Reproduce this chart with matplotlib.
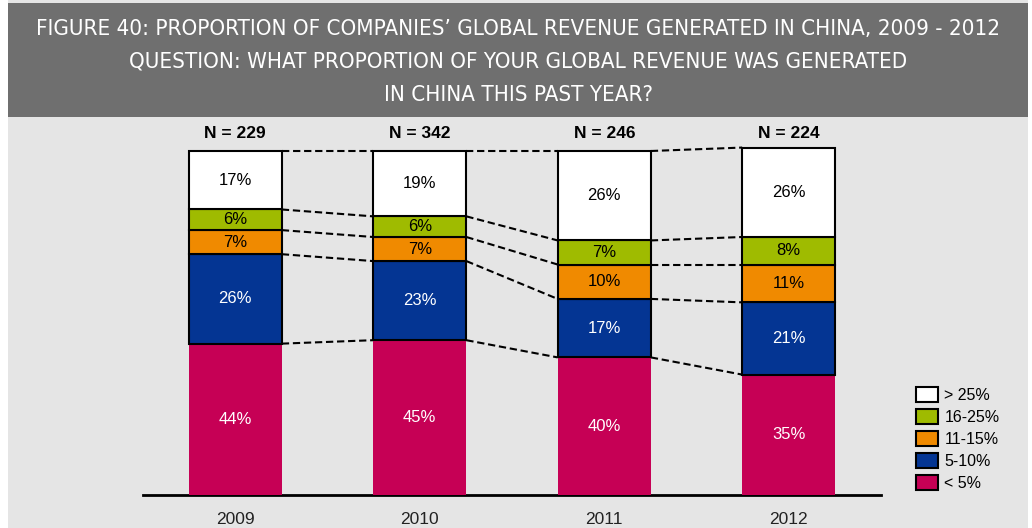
import matplotlib.pyplot as plt
from matplotlib import font_manager
from matplotlib.patches import Patch, Rectangle

# survey data: share of respondents per revenue band, stacked bottom -> top
years = ['2009', '2010', '2011', '2012']
sample_sizes = [229, 342, 246, 224]
bands = ['< 5%', '5-10%', '11-15%', '16-25%', '> 25%']
under_5 = [44, 45, 40, 35]
from_5_to_10 = [26, 23, 17, 21]
from_11_to_15 = [7, 7, 10, 11]
from_16_to_25 = [6, 6, 7, 8]
over_25 = [17, 19, 26, 26]

series = [under_5, from_5_to_10, from_11_to_15, from_16_to_25, over_25]
colors = ['#c60055', '#043593', '#f08a00', '#9fbb00', '#ffffff']
text_colors = ['white', 'white', 'black', 'black', 'black']

plt.rcParams['font.family'] = ['Liberation Sans', 'DejaVu Sans']

fig = plt.figure(figsize=(10.32, 5.28), dpi=100)
fig.patch.set_facecolor('white')

# light page background and dark title band
fig.patches.append(Rectangle((8 / 1032, 0), 1020 / 1032, 1, transform=fig.transFigure,
                             facecolor='#e5e5e5', edgecolor='none', zorder=-2))
fig.patches.append(Rectangle((8 / 1032, 1 - 117 / 528), 1020 / 1032, 114 / 528,
                             transform=fig.transFigure, facecolor='#6f6f6f',
                             edgecolor='none', zorder=-1))

# condensed face for the title if one is installed
title_font = font_manager.FontProperties(family='DejaVu Sans', stretch='condensed')
found = font_manager.findfont(title_font, fallback_to_default=False)
if 'Condensed' not in found:
    title_font = font_manager.FontProperties(family='Liberation Sans')

title_lines = ['FIGURE 40: PROPORTION OF COMPANIES\u2019 GLOBAL REVENUE GENERATED IN CHINA, 2009 - 2012',
               'QUESTION: WHAT PROPORTION OF YOUR GLOBAL REVENUE WAS GENERATED',
               'IN CHINA THIS PAST YEAR?']
title_texts = []
for i, line in enumerate(title_lines):
    t = fig.text(518 / 1032, 1 - (29 + 33 * i) / 528, line, ha='center', va='center',
                 color='white', fontproperties=title_font.copy())
    t.set_fontsize(16.5)
    title_texts.append(t)

# shrink the title so the long first line fits the band
renderer = fig.canvas.get_renderer()
w = title_texts[0].get_window_extent(renderer).width
scale = min(1.0, 960 / w)
for t in title_texts:
    t.set_fontsize(16.5 * scale)

ax = fig.add_axes([143 / 1032, 33 / 528, 738 / 1032, 344 * 1.1 / 528])
ax.set_facecolor('none')
ax.set_xlim(-0.5, 3.5)
ax.set_ylim(0, 110)

x = list(range(len(years)))
width = 0.505
bottoms = [0] * len(years)
tops_per_level = []
for vals, col, tcol in zip(series, colors, text_colors):
    edge = 'none' if col == '#c60055' else 'black'
    ax.bar(x, vals, width, bottom=bottoms, color=col, edgecolor=edge,
           linewidth=1.5, zorder=3)
    for xi, v, b in zip(x, vals, bottoms):
        ax.text(xi, b + v / 2, f'{v}%', ha='center', va='center', color=tcol,
                fontsize=12, zorder=4)
    bottoms = [b + v for b, v in zip(bottoms, vals)]
    tops_per_level.append(list(bottoms))

# dashed connectors between the segment boundaries of neighbouring bars
for tops in tops_per_level:
    for i in range(len(years) - 1):
        ax.plot([x[i] + width / 2, x[i + 1] - width / 2], [tops[i], tops[i + 1]],
                color='black', linestyle=(0, (3.5, 1.8)), linewidth=1.5, zorder=2)

for xi, n in zip(x, sample_sizes):
    ax.text(xi, 105, f'N = {n}', ha='center', va='center', fontsize=12.5,
            fontweight='bold', color='black')

for s in ['top', 'right', 'left']:
    ax.spines[s].set_visible(False)
ax.spines['bottom'].set_linewidth(2)
ax.set_yticks([])
ax.set_xticks(x)
ax.set_xticklabels(years, fontsize=12.5, color='#222222')
ax.tick_params(axis='x', length=0, pad=12)

handles = [Patch(facecolor=c, edgecolor='black', linewidth=1.5)
           for c in colors[::-1]]
fig.legend(handles, bands[::-1], loc='upper left',
           bbox_to_anchor=(910 / 1032, 1 - 381 / 528), frameon=False,
           fontsize=11.5, handlelength=1.35, handleheight=1.0, handletextpad=0.4,
           labelspacing=0.4, borderaxespad=0)

fig.savefig('out.png', dpi=100, facecolor=fig.get_facecolor())
